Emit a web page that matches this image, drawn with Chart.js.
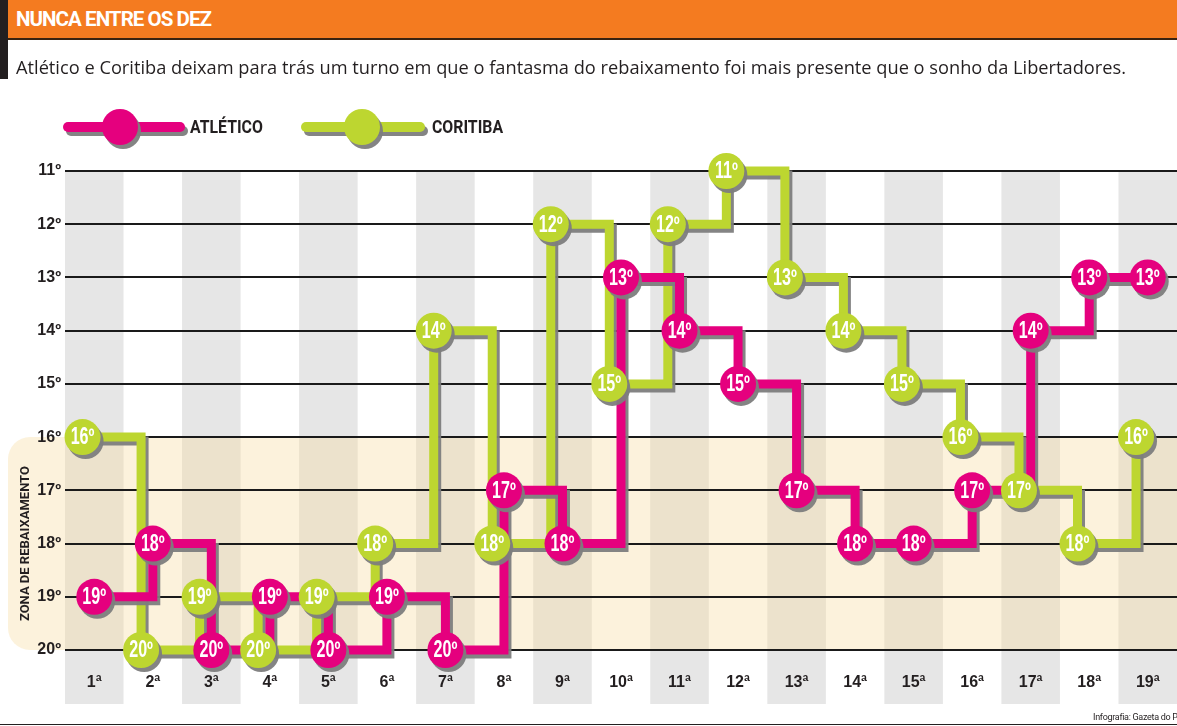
<!DOCTYPE html>
<html>
<head>
<meta charset="utf-8">
<script src="https://cdn.jsdelivr.net/npm/chart.js@4/dist/chart.umd.min.js"></script>
<style>
  html, body { margin: 0; padding: 0; background: #fff; }
  #wrap { position: relative; width: 1177px; height: 726px; overflow: hidden; }
  #chart { position: absolute; left: 0; top: 0; }
  .bar { position: absolute; left: 8px; top: 0; width: 1169px; height: 38px; background: #f47b20; border-bottom: 2px solid #3a2310; }
  .side { position: absolute; left: 0; top: 0; width: 8px; height: 79px; background: #231f20; }
  .title { position: absolute; left: 16px; top: 7px; color: #fff; font: 700 21px Roboto, sans-serif; letter-spacing: -1px; white-space: nowrap; transform-origin: left top; }
  .sub { position: absolute; left: 16px; top: 54px; color: #231f20; font: 400 19px "Open Sans", sans-serif; white-space: nowrap; transform-origin: left top; }
  .credit { position: absolute; left: 1093px; top: 712px; color: #231f20; font: 400 9px Roboto, sans-serif; letter-spacing: -0.3px; white-space: nowrap; }
  .rule { position: absolute; left: 0; top: 724px; width: 1177px; height: 1px; background: #231f20; }
</style>
</head>
<body>
<div id="wrap">
  <canvas id="chart" width="1177" height="726"></canvas>
  <div class="side"></div>
  <div class="bar"></div>
  <div class="title" id="title">NUNCA ENTRE OS DEZ</div>
  <div class="sub" id="sub">Atlético e Coritiba deixam para trás um turno em que o fantasma do rebaixamento foi mais presente que o sonho da Libertadores.</div>
  <div class="credit">Infografia: Gazeta do Povo</div>
  <div class="rule"></div>
</div>
<script>
// rodadas do primeiro turno
const rounds = ['1ª','2ª','3ª','4ª','5ª','6ª','7ª','8ª','9ª','10ª','11ª','12ª','13ª','14ª','15ª','16ª','17ª','18ª','19ª'];
// posição na tabela ao fim de cada rodada
const atleticoPos = [19, 18, 20, 19, 20, 19, 20, 17, 18, 13, 14, 15, 17, 18, 18, 17, 14, 13, 13];
const coritibaPos = [16, 20, 19, 20, 19, 18, 14, 18, 12, 15, 12, 11, 13, 14, 15, 16, 17, 18, 16];
const positions = [11, 12, 13, 14, 15, 16, 17, 18, 19, 20];
const relegationFrom = 16;

const PINK = '#e5007e';
const GREEN = '#bdd630';
const SHADOW = 'rgba(125,125,125,0.95)';
const LABEL_FONT = '"Liberation Sans", Arial, sans-serif';
const coritibaShift = -0.2; // as bolinhas do Coritiba ficam um pouco à esquerda

// fit header texts to the widths of the original layout
function fitWidth(id, w) {
  const el = document.getElementById(id);
  const natural = el.getBoundingClientRect().width;
  el.style.transform = 'scaleX(' + (w / natural) + ')';
}
fitWidth('title', 195);
fitWidth('sub', 1110);

const toPoints = (arr, shift) => arr.map((v, i) => ({ x: i + 1 + shift, y: v }));

const condensed = (ctx, text, x, y, font, sx, color) => {
  ctx.save();
  ctx.font = font;
  ctx.fillStyle = color;
  ctx.textAlign = 'center';
  ctx.textBaseline = 'middle';
  ctx.translate(x, y);
  ctx.scale(sx, 1);
  ctx.fillText(text, 0, 0);
  ctx.restore();
};

const backgroundPlugin = {
  id: 'bands',
  beforeDraw(chart) {
    const { ctx, chartArea: a, scales: { x, y } } = chart;
    ctx.save();
    ctx.fillStyle = '#fff';
    ctx.fillRect(0, 0, chart.width, chart.height);
    // colunas alternadas
    ctx.fillStyle = '#e6e6e6';
    rounds.forEach((r, i) => {
      if (i % 2 === 0) {
        const l = x.getPixelForValue(i + 0.5), rr = x.getPixelForValue(i + 1.5);
        ctx.fillRect(l, a.top - 1, rr - l, 705 - a.top);
      }
    });
    // zona de rebaixamento
    const top = y.getPixelForValue(relegationFrom), bot = y.getPixelForValue(20);
    ctx.fillStyle = 'rgba(246,218,155,0.35)';
    ctx.beginPath();
    ctx.roundRect(8, top, a.right - 8 + 20, bot - top, [22, 0, 0, 22]);
    ctx.fill();
    ctx.translate(26, (top + bot) / 2);
    ctx.rotate(-Math.PI / 2);
    ctx.fillStyle = '#231f20';
    ctx.font = 'bold 13px Roboto, sans-serif';
    ctx.textAlign = 'center';
    ctx.textBaseline = 'middle';
    ctx.fillText('ZONA DE REBAIXAMENTO', 0, 0);
    ctx.restore();
  }
};

const shadowPlugin = {
  id: 'shadows',
  beforeDatasetDraw(chart) {
    const ctx = chart.ctx;
    ctx.save();
    ctx.shadowColor = SHADOW;
    ctx.shadowOffsetX = 3;
    ctx.shadowOffsetY = 4;
    ctx.shadowBlur = 0;
  },
  afterDatasetDraw(chart, args) {
    const ctx = chart.ctx;
    ctx.restore();
    const ds = chart.data.datasets[args.index];
    if (!ds.isMarker) return;
    args.meta.data.forEach((pt, i) => {
      condensed(ctx, ds.data[i].y + 'º', pt.x, pt.y + 1, 'bold 23px ' + LABEL_FONT, 0.7, '#fff');
    });
  }
};

const legendPlugin = {
  id: 'legendo',
  afterDraw(chart) {
    const ctx = chart.ctx;
    const items = [
      { label: 'ATLÉTICO', color: PINK, x0: 68, x1: 180, cx: 120, tx: 190 },
      { label: 'CORITIBA', color: GREEN, x0: 306, x1: 420, cx: 362, tx: 432 }
    ];
    const ly = 127;
    items.forEach(it => {
      ctx.save();
      ctx.shadowColor = SHADOW;
      ctx.shadowOffsetX = 3;
      ctx.shadowOffsetY = 4;
      ctx.strokeStyle = it.color;
      ctx.lineWidth = 10;
      ctx.lineCap = 'round';
      ctx.beginPath();
      ctx.moveTo(it.x0, ly);
      ctx.lineTo(it.x1, ly);
      ctx.stroke();
      ctx.fillStyle = it.color;
      ctx.beginPath();
      ctx.arc(it.cx, ly, 18, 0, Math.PI * 2);
      ctx.fill();
      ctx.restore();
      ctx.save();
      ctx.fillStyle = '#231f20';
      ctx.font = 'bold 18px Roboto, sans-serif';
      ctx.textBaseline = 'middle';
      ctx.translate(it.tx, ly + 1);
      ctx.scale(0.88, 1);
      ctx.fillText(it.label, 0, 0);
      ctx.restore();
    });
  }
};

const lineDs = (label, arr, shift, color, order) => ({
  label, data: toPoints(arr, shift), borderColor: color, borderWidth: 9,
  stepped: 'before', pointRadius: 0, fill: false, clip: false, order,
  borderJoinStyle: 'miter', borderCapStyle: 'butt'
});
const markerDs = (label, arr, shift, color, order) => ({
  label, data: toPoints(arr, shift), showLine: false, pointRadius: 18,
  pointBackgroundColor: color, pointBorderWidth: 0, clip: false, order, isMarker: true
});

new Chart(document.getElementById('chart'), {
  type: 'line',
  data: {
    datasets: [
      markerDs('Atlético', atleticoPos, 0, PINK, 1),
      markerDs('Coritiba', coritibaPos, coritibaShift, GREEN, 2),
      lineDs('Atlético', atleticoPos, 0, PINK, 3),
      lineDs('Coritiba', coritibaPos, coritibaShift, GREEN, 4)
    ]
  },
  options: {
    responsive: false,
    animation: false,
    events: [],
    layout: { autoPadding: false, padding: { top: 171, left: 0, right: 0, bottom: 0 } },
    plugins: { legend: { display: false }, tooltip: { enabled: false } },
    scales: {
      x: {
        type: 'linear', min: 0.5, max: 19.5,
        afterBuildTicks: s => { s.ticks = rounds.map((r, i) => ({ value: i + 1 })); },
        afterFit: s => { s.height = 76; s.paddingLeft = 0; s.paddingRight = 0; },
        grid: { display: false, drawTicks: false },
        border: { display: false },
        ticks: {
          autoSkip: false, maxRotation: 0, padding: 23,
          callback: v => rounds[v - 1],
          color: '#231f20', font: { family: LABEL_FONT, weight: 'bold', size: 16 }
        }
      },
      y: {
        type: 'linear', reverse: true, min: 11, max: 20,
        afterBuildTicks: s => { s.ticks = positions.map(v => ({ value: v })); },
        afterFit: s => { s.width = 65; },
        grid: { color: '#1a1a1a', lineWidth: 2, drawTicks: false },
        border: { display: false },
        ticks: {
          padding: 4,
          callback: v => v + 'º',
          color: '#231f20', font: { family: LABEL_FONT, weight: 'bold', size: 16 }
        }
      }
    }
  },
  plugins: [backgroundPlugin, shadowPlugin, legendPlugin]
});
</script>
</body>
</html>
